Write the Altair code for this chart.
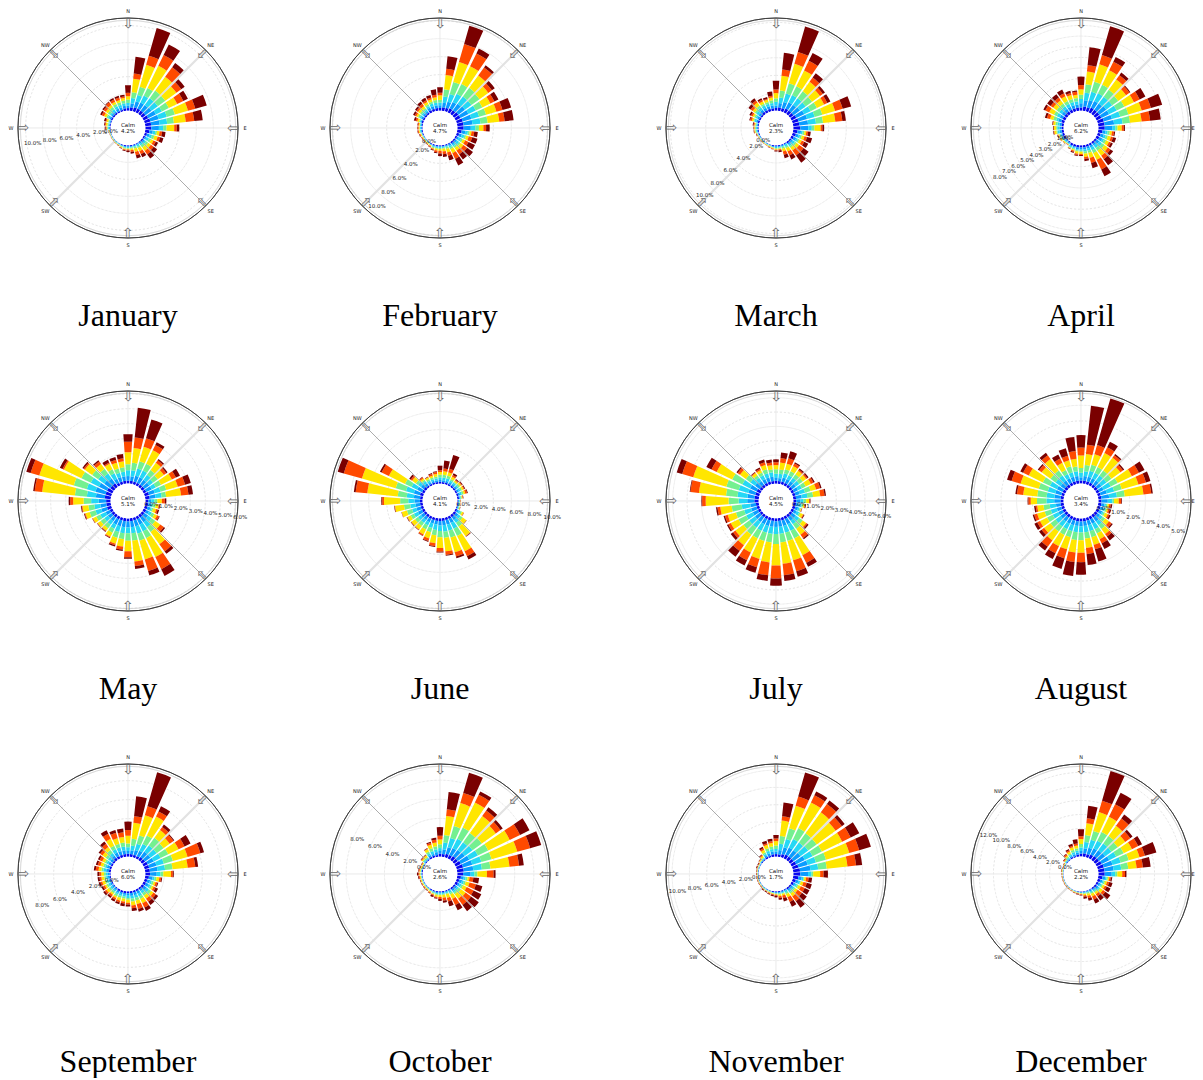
import altair as alt
import pandas as pd

# band widths in percent for each of 36 directions (0, 10, ... 350 deg); bands by rising wind speed
JANUARY = [[.3,.3,.3,.4,.4,.4,.9],[.4,.5,.6,.7,1.6,.6,2.0],[.5,.7,.8,1.0,2.7,1.1,3.4],[.5,.8,.9,1.0,2.9,1.4,1.4],[.5,.8,1,1.1,2,1.4,.6],[.5,.9,.9,1.1,1.6,.7,.5],[.6,1,.8,.9,1.1,.8,.6],[.7,1,1,1,1.6,.9,1.4],[.7,1,.9,.8,1.4,1,1],[.7,.9,.5,.4,.9,.3,.3],[.5,.4,.3,.2,.3,.3,.4],[.3,.3,.3,.3,.4,.3,.4],[.2,.2,.3,.3,.3,.3,.3],[.2,.2,.2,.3,.4,.4,.5],[.1,.2,.2,.3,.5,.5,.6],[.1,.1,.2,.2,.4,.4,.4],[.1,.1,.1,.2,.4,.4,.4],[.1,.1,.1,.1,.2,.2,.2],[.1,.1,.1,.1,.1,.1,.2],[.1,.1,.1,.1,.1,.1,.1],[.1,.05,.05,.1,.1,.05,.05],[.05,.05,.05,.05,.05,.05,.05],[.05,.05,.05,.05,.05,.03,.02],[.05,.04,.04,.04,.04,.02,.02],[.05,.04,.04,.04,.04,.02,.02],[.05,.04,.04,.04,.04,.02,.02],[.05,.05,.05,.05,.05,.03,.02],[.1,.1,.1,.1,.1,.1,.1],[.1,.1,.1,.1,.2,.1,.1],[.1,.1,.1,.1,.2,.1,.2],[.2,.2,.2,.2,.3,.3,.2],[.2,.2,.2,.3,.3,.3,.2],[.2,.2,.3,.3,.3,.4,.1],[.2,.3,.3,.3,.3,.3,.2],[.2,.3,.3,.3,.3,.3,.2],[.3,.3,.3,.3,.3,.2,.2]]
FEBRUARY = [[.3,.3,.3,.3,.5,.3,.6],[.4,.5,.7,.8,1.6,.7,1.4],[.4,.7,.9,1.4,2.3,2.1,2.1],[.5,.8,1,1.2,2.2,1.6,.6],[.5,.9,1,1.2,1.7,1.1,.3],[.6,.9,.9,1.1,1.2,.5,.4],[.6,1,.9,.8,1,.5,.5],[.7,1,.9,.8,1.2,.7,1],[.7,1,.9,.8,1.3,.6,1],[.7,.8,.5,.4,.5,.3,.4],[.5,.4,.3,.2,.2,.3,.4],[.3,.3,.3,.2,.3,.4,.6],[.2,.2,.3,.2,.3,.4,.8],[.2,.2,.3,.2,.4,.5,.8],[.2,.2,.2,.2,.4,.5,.7],[.1,.2,.2,.2,.5,.7,.8],[.1,.1,.1,.2,.4,.4,.5],[.1,.1,.1,.1,.3,.3,.3],[.1,.1,.1,.1,.2,.3,.3],[.1,.1,.1,.1,.2,.2,.1],[.1,.1,.1,.1,.1,.1,.1],[.1,.05,.05,.05,.1,.1,.05],[.05,.05,.05,.05,.1,.05,.05],[.05,.05,.05,.05,.1,.05,.05],[.05,.05,.05,.05,.1,.05,.05],[.1,.05,.05,.05,.1,.1,.05],[.1,.1,.1,.05,.1,.1,.05],[.1,.1,.1,.05,.1,.1,.05],[.1,.1,.1,.05,.1,.1,.05],[.2,.1,.1,.1,.2,.2,.2],[.2,.2,.2,.2,.2,.2,.2],[.2,.2,.2,.2,.3,.2,.2],[.2,.2,.2,.2,.3,.3,.3],[.3,.3,.2,.2,.3,.2,.3],[.3,.3,.3,.2,.3,.2,.3],[.3,.3,.3,.3,.3,.3,.6]]
MARCH = [[.3,.3,.4,.4,.6,.4,1],[.4,.5,.6,.8,1.7,.7,1.9],[.4,.7,1,1.2,2.3,1.4,3],[.5,.8,.9,1.1,2,1.2,1],[.5,.8,.9,1,1.3,.6,.6],[.5,.9,.8,.9,1.1,.4,.3],[.6,1,.8,.8,.9,.4,.4],[.7,1,.9,.9,1.5,.9,1],[.7,1,.9,.8,1.4,.8,.4],[.8,.9,.4,.3,.7,.2,.2],[.5,.4,.2,.2,.2,.2,.3],[.4,.3,.2,.2,.3,.3,.6],[.3,.3,.2,.2,.3,.3,.5],[.2,.2,.3,.2,.4,.6,.7],[.2,.2,.2,.2,.4,.7,1],[.1,.1,.2,.2,.4,.5,.5],[.1,.1,.1,.2,.3,.4,.4],[.1,.1,.1,.1,.1,.1,.2],[.1,.1,.1,.1,.1,.1,.1],[.1,.1,.05,.05,.1,.05,.05],[.05,.05,.05,.05,.1,.05,.05],[.05,.05,.05,.05,.05,.03,.02],[.05,.05,.05,.05,.05,.03,.02],[.05,.05,.05,.05,.05,.03,.02],[.05,.05,.05,.05,.05,.03,.02],[.1,.05,.05,.05,.05,.05,.05],[.1,.1,.1,.1,.1,.05,.05],[.1,.1,.1,.1,.1,.05,.05],[.1,.1,.1,.1,.1,.1,.1],[.2,.2,.2,.1,.2,.2,.1],[.2,.2,.2,.2,.2,.2,.2],[.2,.3,.3,.2,.3,.3,.3],[.3,.3,.3,.3,.4,.3,.3],[.3,.3,.3,.2,.3,.2,.2],[.3,.3,.3,.2,.3,.1,.2],[.3,.3,.3,.3,.3,.2,.5]]
APRIL = [[.3,.4,.4,.4,.5,.4,.8],[.4,.6,.7,.8,1.2,.6,1.7],[.4,.7,.8,1,1.7,.9,2.8],[.5,.7,.8,.9,1.5,.9,.5],[.5,.7,.8,.8,1.2,.5,.3],[.5,.8,.7,.7,.9,.4,.1],[.5,.8,.8,.8,1,.6,.6],[.6,.8,.8,.8,1.3,.9,1.1],[.6,.9,.8,.7,1.1,.8,1],[.6,.7,.3,.2,.4,.2,.1],[.4,.3,.2,.2,.2,.2,.1],[.3,.3,.2,.2,.3,.2,.3],[.3,.3,.2,.2,.3,.2,.2],[.2,.3,.3,.3,.4,.3,.3],[.2,.2,.3,.3,.6,.4,.7],[.2,.2,.3,.3,.7,1,.7],[.2,.2,.2,.2,.5,.5,.5],[.2,.2,.2,.2,.3,.2,.2],[.2,.2,.1,.1,.2,.1,.1],[.2,.2,.1,.1,.2,.1,.1],[.2,.1,.1,.1,.1,.1,.1],[.2,.1,.1,.1,.05,.03,.02],[.1,.1,.05,.05,.05,.03,.02],[.1,.1,.1,.05,.1,.03,.02],[.2,.1,.1,.05,.1,.03,.02],[.2,.1,.1,.1,.1,.05,.05],[.2,.2,.2,.1,.2,.05,.05],[.2,.2,.2,.1,.2,.05,.05],[.2,.2,.2,.2,.2,.05,.05],[.3,.3,.2,.3,.3,.3,.2],[.3,.3,.3,.3,.5,.4,.2],[.3,.3,.3,.3,.4,.3,.4],[.3,.3,.3,.3,.4,.3,.4],[.3,.3,.3,.3,.5,.3,.4],[.3,.3,.3,.3,.4,.2,.2],[.3,.3,.3,.3,.3,.3,.1]]
MAY = [[.2,.3,.4,.4,.8,.7,.5],[.2,.3,.4,.5,1,.7,2],[.2,.4,.5,.5,1,.6,1.3],[.2,.4,.5,.5,1,.4,.2],[.2,.4,.4,.4,.6,.2,.1],[.2,.4,.3,.4,.5,.2,.1],[.2,.4,.3,.4,.8,.3,.3],[.3,.4,.4,.4,.8,.5,.4],[.3,.4,.4,.3,1,.5,.3],[.2,.2,.2,.2,.3,.2,.1],[.2,.2,.1,.2,.2,.05,.05],[.2,.2,.1,.1,.2,.1,.1],[.2,.2,.2,.2,.2,.15,.05],[.2,.3,.3,.3,.4,.3,.1],[.2,.4,.4,.4,1,.6,.2],[.2,.4,.5,.5,1.4,.9,.5],[.2,.4,.5,.5,1.3,.8,.3],[.2,.4,.4,.5,1.4,.3,.2],[.2,.4,.4,.5,.7,.4,.1],[.2,.4,.4,.4,.5,.2,.1],[.2,.4,.4,.4,.4,.1,.1],[.2,.4,.3,.3,.3,.05,.05],[.2,.3,.3,.3,.2,.05,.05],[.2,.3,.3,.3,.25,.03,.02],[.2,.3,.4,.3,.25,.03,.02],[.3,.4,.4,.4,.3,.05,.05],[.3,.4,.4,.4,.4,.05,.05],[.3,.5,.5,.5,.7,.2,.1],[.4,.6,.6,.8,2.2,.5,.1],[.4,.7,.6,.9,2.4,.6,.3],[.4,.6,.6,.7,1.3,.1,.2],[.3,.5,.5,.5,.6,.1,.1],[.3,.4,.4,.4,.4,.2,.1],[.2,.3,.4,.3,.4,.1,.2],[.2,.3,.3,.3,.4,.2,.2],[.2,.3,.3,.3,.4,.2,.3]]
JUNE = [[.2,.2,.3,.3,.3,.2,.5],[.2,.2,.3,.3,.4,.3,.9],[.2,.2,.3,.3,.4,.4,1.6],[.2,.2,.2,.2,.3,.2,.2],[.2,.2,.2,.1,.2,.1,.1],[.2,.2,.2,.2,.2,.1,.1],[.2,.2,.2,.2,.2,.1,.1],[.2,.2,.2,.2,.2,.2,.1],[.2,.1,.1,.1,.1,.05,.05],[.1,.1,.05,.05,.03,.03,.02],[.1,.1,.05,.05,.03,.03,.02],[.1,.1,.05,.1,.05,.03,.02],[.2,.2,.2,.2,.2,.03,.02],[.3,.3,.3,.3,.5,.03,.02],[.3,.4,.4,.5,1.3,.05,.05],[.3,.5,.7,.9,1.9,.6,.4],[.3,.5,.7,.8,1.7,.5,.2],[.3,.5,.7,.7,1.5,.4,.1],[.3,.5,.6,.7,1.2,.4,.1],[.3,.4,.6,.6,.9,.3,.1],[.3,.4,.5,.5,.7,.3,.1],[.3,.4,.4,.5,.6,.15,.05],[.3,.4,.4,.4,.5,.05,.05],[.3,.4,.4,.4,.5,.05,.05],[.3,.5,.5,.4,.4,.05,.05],[.3,.5,.5,.6,.6,.03,.02],[.3,.5,.6,.7,1,.05,.05],[.3,.6,.7,.9,1.8,.2,.1],[.3,.7,.8,1,3.4,1.3,.2],[.4,.7,.9,1.2,3.9,2.1,.7],[.3,.6,.7,.8,2,.9,.2],[.3,.4,.4,.3,.5,.2,.2],[.2,.3,.3,.2,.2,.15,.05],[.2,.2,.2,.2,.2,.05,.05],[.2,.2,.2,.2,.2,.2,.1],[.2,.2,.2,.2,.3,.2,.1]]
JULY = [[.2,.2,.3,.3,.3,.2,.2],[.2,.2,.3,.3,.5,.3,.4],[.2,.3,.3,.3,.4,.4,.5],[.2,.3,.3,.3,.4,.2,.1],[.2,.3,.3,.3,.3,.1,.1],[.2,.3,.3,.3,.3,.1,.1],[.2,.3,.3,.3,.4,.2,.1],[.2,.3,.4,.4,.4,.3,.1],[.2,.4,.4,.4,.5,.3,.1],[.2,.3,.2,.2,.2,.05,.05],[.2,.2,.2,.1,.1,.05,.05],[.2,.2,.1,.1,.05,.03,.02],[.2,.2,.2,.1,.2,.05,.05],[.2,.3,.3,.3,.3,.1,.1],[.2,.3,.3,.4,.5,.3,.1],[.2,.4,.5,.6,1.3,.6,.3],[.2,.4,.5,.6,1.4,.8,.4],[.2,.4,.5,.6,1.5,.8,.4],[.2,.4,.5,.7,1.5,.9,.5],[.2,.4,.5,.6,1.4,.9,.4],[.2,.4,.5,.6,1.3,.6,.4],[.2,.4,.5,.6,1.1,.6,.4],[.2,.4,.5,.6,.9,.5,.5],[.2,.4,.5,.5,.7,.2,.2],[.2,.4,.5,.6,.6,.2,.1],[.2,.4,.5,.6,.6,.2,.1],[.2,.4,.6,.7,.8,.2,.1],[.3,.5,.6,.7,1.6,.25,.05],[.3,.5,.7,.8,1.9,.6,.05],[.3,.5,.7,.9,2.4,.8,.4],[.3,.5,.6,.8,1.2,.4,.4],[.2,.4,.4,.4,.5,.2,.1],[.2,.3,.3,.2,.2,.05,.05],[.2,.3,.3,.2,.2,.1,.1],[.2,.3,.3,.3,.3,.2,.2],[.2,.3,.3,.2,.3,.2,.2]]
AUGUST = [[.2,.2,.3,.3,.8,.5,.8],[.2,.3,.3,.4,.7,.6,2.5],[.2,.3,.4,.4,.7,.6,3.1],[.2,.3,.4,.4,1,.4,.4],[.2,.3,.4,.4,1,.2,.1],[.2,.3,.4,.4,.7,.2,.1],[.2,.3,.5,.5,1,.5,.4],[.2,.4,.5,.5,1.1,.5,.3],[.2,.5,.5,.5,1.2,.5,.1],[.2,.4,.3,.1,.3,.15,.05],[.2,.2,.1,.1,.1,.1,.1],[.2,.2,.1,.1,.1,.1,.1],[.2,.2,.1,.1,.2,.1,.1],[.2,.2,.2,.2,.3,.2,.1],[.2,.3,.3,.3,.4,.2,.3],[.2,.3,.4,.3,.4,.3,.4],[.2,.3,.4,.4,.5,.3,.8],[.2,.3,.4,.4,.6,.4,.7],[.2,.3,.4,.5,.8,.6,.8],[.2,.3,.4,.5,.8,.6,.9],[.2,.3,.4,.4,.8,.6,.7],[.2,.3,.4,.4,.8,.5,.4],[.2,.3,.4,.4,.7,.5,.3],[.2,.3,.4,.4,.5,.2,.2],[.2,.3,.4,.4,.5,.2,.2],[.2,.3,.4,.4,.5,.2,.1],[.2,.3,.4,.4,.4,.1,.1],[.2,.4,.5,.6,.4,.15,.05],[.2,.4,.5,.6,.9,.4,.1],[.2,.4,.5,.6,1.2,.6,.3],[.2,.4,.5,.5,1,.4,.2],[.2,.3,.4,.4,.7,.2,.1],[.2,.3,.4,.4,.9,.3,.2],[.2,.3,.3,.3,.5,.3,.3],[.2,.3,.3,.4,.4,.3,.5],[.2,.3,.3,.3,.5,.5,.9]]
SEPTEMBER = [[.3,.3,.4,.4,.8,.6,.9],[.3,.4,.5,.7,1.7,.7,2.1],[.3,.5,.7,.9,2.2,1,3.7],[.3,.6,.8,1,2.2,.6,.6],[.4,.7,.8,1,1,.4,.3],[.4,.7,.8,.9,.8,.5,.1],[.5,.7,.8,.9,1.2,.7,.7],[.5,.8,.8,1,1.6,1.4,.4],[.5,.8,.8,.8,1.6,.8,.3],[.5,.7,.4,.3,.8,.2,.1],[.4,.4,.2,.2,.3,.2,.1],[.3,.3,.2,.2,.2,.2,.1],[.3,.3,.2,.2,.2,.2,.3],[.3,.3,.3,.3,.3,.3,.3],[.2,.2,.3,.3,.4,.4,.4],[.2,.3,.3,.3,.5,.5,.4],[.2,.3,.3,.3,.4,.5,.3],[.2,.3,.3,.3,.4,.3,.3],[.2,.2,.3,.2,.3,.2,.2],[.2,.2,.2,.2,.3,.2,.3],[.2,.2,.2,.2,.3,.2,.2],[.2,.2,.2,.2,.2,.2,.2],[.1,.2,.2,.2,.2,.2,.2],[.1,.2,.2,.2,.3,.2,.2],[.1,.2,.2,.2,.2,.2,.2],[.1,.2,.2,.2,.3,.2,.2],[.1,.2,.2,.2,.3,.2,.2],[.1,.2,.2,.2,.3,.2,.2],[.2,.3,.3,.2,.3,.3,.2],[.2,.3,.2,.2,.3,.3,.2],[.2,.3,.2,.2,.3,.3,.2],[.2,.3,.3,.3,.4,.3,.2],[.3,.3,.3,.4,.4,.4,.3],[.3,.4,.4,.4,.8,.6,.4],[.3,.4,.4,.4,.6,.6,.3],[.3,.4,.4,.4,.6,.5,.4]]
OCTOBER = [[.3,.3,.3,.4,.5,.4,.9],[.3,.5,.7,.8,2,.7,1.8],[.4,.7,1,1.3,2.5,1.1,2.2],[.4,.8,1.1,1.3,2.9,.9,.4],[.5,.8,1,1.2,2.2,.7,.4],[.5,.9,1,1.2,1.8,.6,.3],[.6,1,1,1.2,2.5,1.2,1.1],[.7,1,1,1.1,2.8,1.4,1.2],[.7,1,.9,.9,2,1,.5],[.6,.8,.4,.3,1,.7,.2],[.4,.3,.2,.2,.2,.4,.6],[.3,.3,.2,.2,.4,.7,.7],[.3,.2,.2,.2,.4,.8,.9],[.2,.2,.2,.3,.6,.7,1],[.2,.2,.2,.2,.6,.8,.8],[.1,.1,.2,.2,.5,.7,.6],[.1,.1,.1,.1,.4,.4,.5],[.1,.1,.1,.1,.3,.3,.2],[.1,.1,.1,.1,.2,.2,.2],[.1,.1,.1,.1,.2,.1,.1],[.1,.05,.1,.1,.1,.1,.15],[.1,.05,.05,.05,.1,.1,.05],[.05,.05,.05,.05,.1,.05,.05],[.05,.05,.05,.05,.1,.05,.05],[.05,.05,.05,.05,.1,.05,.05],[.05,.05,.05,.05,.1,.05,.05],[.05,.05,.05,.05,.1,.1,.1],[.1,.05,.05,.05,.1,.1,.15],[.1,.05,.05,.05,.1,.1,.05],[.05,.05,.05,.05,.1,.05,.05],[.05,.05,.05,.05,.1,.05,.05],[.1,.1,.1,.1,.15,.1,.05],[.1,.1,.1,.1,.2,.05,.05],[.2,.2,.2,.2,.3,.05,.05],[.2,.2,.3,.3,.4,.2,.1],[.2,.3,.3,.3,.4,.3,.2]]
NOVEMBER = [[.3,.3,.3,.4,.5,.3,.4],[.3,.5,.7,.9,1.8,.5,1.6],[.4,.8,1,1.3,2.7,1.1,2.9],[.5,.9,1.1,1.4,3.3,.9,.5],[.5,.9,1.1,1.3,3,1.2,.5],[.5,1,1.1,1.2,2.7,.9,.4],[.6,1.1,1,1.2,2.6,1.1,1.1],[.7,1.1,1,1.2,2.8,1.2,1.4],[.8,1.2,.9,1,2.4,1,.7],[.8,.9,.4,.2,.8,.4,.5],[.6,.4,.2,.1,.2,.3,.4],[.4,.3,.2,.1,.3,.4,.6],[.3,.2,.2,.2,.3,.5,.6],[.2,.2,.2,.2,.3,.6,.7],[.2,.2,.2,.2,.4,.7,.9],[.1,.1,.2,.2,.4,.6,.6],[.1,.1,.1,.1,.2,.3,.4],[.1,.1,.1,.1,.2,.2,.2],[.1,.1,.05,.05,.1,.1,.2],[.1,.05,.05,.05,.1,.1,.15],[.05,.05,.05,.05,.1,.1,.1],[.05,.05,.05,.05,.05,.05,.1],[.05,.05,.05,.05,.05,.05,.1],[.05,.05,.03,.03,.05,.05,.04],[.05,.05,.03,.03,.05,.05,.04],[.05,.05,.03,.03,.05,.05,.04],[.05,.05,.03,.03,.05,.05,.04],[.05,.05,.03,.03,.05,.05,.04],[.05,.05,.03,.03,.05,.05,.04],[.05,.05,.05,.05,.05,.05,.1],[.05,.05,.05,.05,.05,.05,.1],[.1,.1,.05,.05,.1,.05,.05],[.1,.1,.1,.1,.2,.1,.1],[.2,.2,.2,.2,.3,.2,.2],[.2,.3,.3,.3,.4,.2,.3],[.3,.3,.3,.3,.4,.2,.3]]
DECEMBER = [[.4,.4,.5,.5,.7,.4,1],[.5,.7,.9,1,1.7,.7,1.8],[.5,.9,1.2,1.3,2.8,1.7,4.4],[.6,1,1.2,1.4,2.4,2,1.8],[.7,1,1.2,1.3,1.8,1.3,.7],[.7,1.1,1.1,1.1,1.3,.9,.4],[.8,1.2,1.1,1.2,1.3,1,.6],[.9,1.3,1.2,1.2,1.6,.8,1.7],[.9,1.3,1.1,1,1.2,.9,1.1],[.9,1,.5,.3,.7,.4,.2],[.6,.4,.2,.2,.2,.2,.2],[.4,.3,.2,.2,.3,.3,.5],[.3,.3,.2,.2,.3,.3,.6],[.3,.3,.2,.2,.4,.4,.9],[.2,.2,.2,.2,.3,.4,.7],[.1,.2,.2,.2,.4,.5,.6],[.1,.1,.1,.2,.3,.3,.4],[.1,.1,.1,.1,.2,.2,.3],[.1,.1,.05,.05,.1,.1,.1],[.1,.05,.05,.05,.05,.1,.1],[.05,.05,.05,.05,.1,.05,.05],[.05,.05,.03,.03,.05,.05,.04],[.05,.05,.03,.03,.05,.05,.04],[.05,.05,.03,.03,.05,.05,.04],[.05,.05,.03,.03,.05,.05,.04],[.05,.05,.03,.03,.05,.05,.04],[.05,.05,.03,.03,.05,.05,.04],[.05,.05,.03,.03,.05,.05,.04],[.05,.05,.05,.05,.1,.05,.05],[.05,.05,.03,.03,.05,.05,.04],[.05,.05,.05,.05,.1,.05,.05],[.1,.1,.1,.1,.1,.1,.1],[.1,.1,.2,.2,.2,.2,.1],[.2,.2,.2,.2,.3,.2,.2],[.2,.3,.3,.3,.4,.2,.3],[.3,.3,.3,.3,.4,.3,.6]]

MONTHS = ["January","February","March","April","May","June","July","August","September","October","November","December"]
BANDS = [JANUARY,FEBRUARY,MARCH,APRIL,MAY,JUNE,JULY,AUGUST,SEPTEMBER,OCTOBER,NOVEMBER,DECEMBER]
CALM = ["4.2%","4.7%","2.3%","6.2%","5.1%","4.1%","4.5%","3.4%","6.0%","2.6%","1.7%","2.2%"]
HOLE = [2.04,1.93,1.96,1.63,1.16,1.93,1.21,1.11,1.82,1.81,2.0,2.48]
OUTER = [10.9,10.3,10.5,8.7,6.18,10.3,6.47,5.91,9.75,9.69,10.7,13.2]
TICKS = [[0,2,4,6,8,10],[0,2,4,6,8,10],[0,2,4,6,8,10],[0,1,2,3,4,5,6,7,8],[0,1,2,3,4,5,6],[0,2,4,6,8,10],[0,1,2,3,4,5,6],[0,1,2,3,4,5],[0,2,4,6,8],[0,2,4,6,8],[0,2,4,6,8,10],[0,2,4,6,8,10,12]]
TICK_ANGLE = [261,219,227,239,98,98,98,107,250,293,260,293]
TICK_SHIFT = [-6,-7,-8,-8,6,6,6,6,-2,-4,-4,-1]
COMPASS = ["N","NE","E","SE","S","SW","W","NW"]
COMPASS_DEG = [0,45,90,135,180,225,270,315]
BAND_NAMES = ["b1","b2","b3","b4","b5","b6","b7"]
COLORS = ["#0808ee","#0a9cff","#25d8f5","#74f090","#ffe600","#ff4a00","#7a0000"]

SIZE = 226
R_PX = 110
SECTOR = 4.0
GAPS = [86, 110, 79]


def panel(i):
    h, out = HOLE[i], OUTER[i]
    rscale = alt.Scale(type="linear", domain=[-h, out], range=[0, R_PX], zero=False)
    tscale = alt.Scale(domain=[0, 360])

    def R(f):
        return alt.Radius(f, type="quantitative", scale=rscale, stack=None)

    def T(f):
        return alt.Theta(f, type="quantitative", scale=tscale, stack=None)

    rows = []
    for k, row in enumerate(BANDS[i]):
        d = k * 10
        c = 0.0
        for name, w in zip(BAND_NAMES, row):
            rows.append(dict(t0=d - SECTOR, t1=d + SECTOR, r0=c, r1=c + w, band=name))
            c += w
    bars = alt.Chart(pd.DataFrame(rows)).mark_arc().encode(
        theta=T("t0"), theta2=alt.Theta2("t1"),
        radius=R("r0"), radius2=alt.Radius2("r1"),
        color=alt.Color("band:N", scale=alt.Scale(domain=BAND_NAMES, range=COLORS), legend=None),
    )

    def ring(vals, **kw):
        df = pd.DataFrame(dict(r=vals, t0=[0.0] * len(vals), t1=[360.0] * len(vals)))
        return alt.Chart(df).mark_arc(fillOpacity=0, **kw).encode(
            theta=T("t0"), theta2=alt.Theta2("t1"), radius=R("r"), radius2=alt.Radius2("r"))

    grid = ring([v for v in TICKS[i] if v > 0], stroke="#dcdcdc", strokeWidth=0.5, strokeDash=[2, 2])
    rim = ring([out], stroke="#333333", strokeWidth=0.8)
    rim2 = ring([out * 0.975], stroke="#cccccc", strokeWidth=0.5)

    def spokes(degs, **kw):
        df = pd.DataFrame(dict(t=degs, r0=[0.0] * len(degs), r1=[out] * len(degs)))
        return alt.Chart(df).mark_arc(fillOpacity=0, **kw).encode(
            theta=T("t"), theta2=alt.Theta2("t"), radius=R("r0"), radius2=alt.Radius2("r1"))

    sp_a = spokes([45, 225], stroke="#e2e2e2", strokeWidth=2.2)
    sp_b = spokes([135, 315], stroke="#a8a8a8", strokeWidth=0.8)
    sp_c = spokes([0, 90, 180, 270], stroke="#ececec", strokeWidth=0.7)

    hole_fill = alt.Chart(pd.DataFrame(dict(r0=[-h], r1=[0.0], t0=[0.0], t1=[360.0]))).mark_arc(color="white").encode(
        theta=T("t0"), theta2=alt.Theta2("t1"), radius=R("r0"), radius2=alt.Radius2("r1"))

    # the 0.0% label stays out on the hole's edge, clear of the Calm text
    nudge = (out + h) * max(-TICK_SHIFT[i], 0) / R_PX
    tick_df = pd.DataFrame(dict(r=[v + nudge if v == 0 else v for v in TICKS[i]],
                                t=[TICK_ANGLE[i]] * len(TICKS[i]),
                                label=[f"{v:.1f}%" for v in TICKS[i]]))
    tick_text = alt.Chart(tick_df).mark_text(
        fontSize=5.5, font="DejaVu Sans", color="#222222", baseline="middle", radiusOffset=TICK_SHIFT[i]
    ).encode(theta=T("t"), radius=R("r"), text="label:N")

    # the last column sits against the page edge, so its E label hugs the rim
    label_r = [out] * 8
    if i % 4 == 3:
        label_r[2] = out - (out + h) * 5 / R_PX
    comp_df = pd.DataFrame(dict(t=COMPASS_DEG, r=[out] * 8, lr=label_r, name=COMPASS,
                                glyph=["\u21e9"] * 8, a=COMPASS_DEG))
    comp_text = alt.Chart(comp_df).mark_text(
        fontSize=5, font="DejaVu Sans", color="#222222", baseline="middle", radiusOffset=7
    ).encode(theta=T("t"), radius=R("lr"), text="name:N")
    arrows = alt.Chart(comp_df).mark_text(
        fontSize=14, font="DejaVu Sans", color="#666666", baseline="middle", radiusOffset=-6
    ).encode(theta=T("t"), radius=R("r"), text="glyph:N", angle=alt.Angle("a:Q", scale=None))

    calm = alt.Chart(pd.DataFrame(dict(label=["Calm", CALM[i]], y=[SIZE / 2 - 3.5, SIZE / 2 + 3]))).mark_text(
        fontSize=5.5, font="DejaVu Sans", color="#111111", baseline="middle"
    ).encode(x=alt.value(SIZE / 2), y=alt.Y("y:Q", scale=None), text="label:N")

    month = alt.Chart(pd.DataFrame(dict(label=[MONTHS[i]]))).mark_text(
        fontSize=32, font="Liberation Serif", color="#000000", baseline="middle"
    ).encode(x=alt.value(SIZE / 2), y=alt.value(SIZE / 2 + 188), text="label:N")

    return alt.layer(grid, rim2, sp_a, sp_b, sp_c, bars, hole_fill, rim, arrows, comp_text, tick_text, calm, month).properties(
        width=SIZE, height=SIZE)


def gap(w):
    return alt.Chart(pd.DataFrame(dict(a=[0]))).mark_point(opacity=0).properties(width=w, height=SIZE)


cells = []
for r in range(3):
    for c in range(4):
        cells.append(panel(r * 4 + c))
        if c < 3:
            cells.append(gap(GAPS[c]))

chart = alt.ConcatChart(concat=cells, columns=7, spacing={"column": 0, "row": 147}, bounds="flush", align="each").properties(
    padding={"left": 0, "top": 1, "right": 0, "bottom": 0}
).configure_view(strokeWidth=0)

chart.save("out.html", embed_options={"renderer": "svg", "actions": False})
